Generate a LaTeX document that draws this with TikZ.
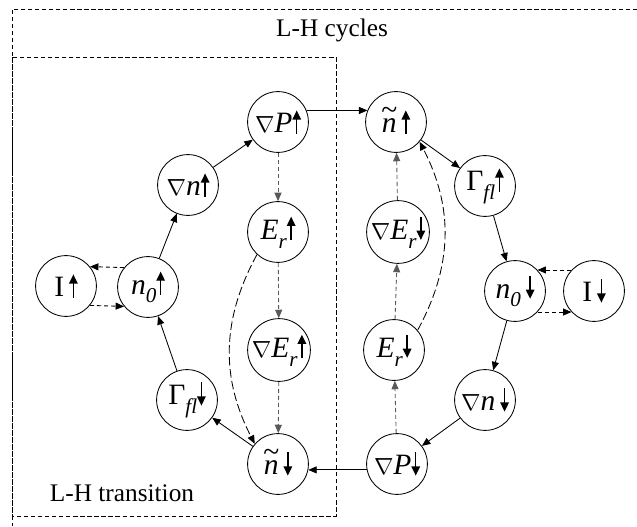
\documentclass[tikz,border=0pt]{standalone}
\usepackage{fontspec}
\usepackage{graphicx}
\setmainfont{Liberation Serif}
\usetikzlibrary{arrows.meta}

% small up / down arrows used inside the circles
\newcommand{\upar}{\tikz[baseline=0pt]\draw[line width=1pt,-{Triangle[length=6.5pt,width=6pt]}] (0pt,-0.5pt) -- (0pt,16pt);}
\newcommand{\dnar}{\tikz[baseline=0pt]\draw[line width=1pt,-{Triangle[length=6.5pt,width=6pt]}] (0pt,16pt) -- (0pt,-0.5pt);}
% gradient sign, lowered index and n with a wide tilde
\newcommand{\grad}{\scalebox{0.8}{$\nabla$}}
\newcommand{\low}[1]{\raisebox{-0.3em}{\fontsize{15}{15}\selectfont\textit{#1}}}
\newcommand{\ntil}{\ooalign{\textit{n}\cr\hidewidth\raisebox{0.45em}{\textasciitilde}\hidewidth\cr}}

\begin{document}
\begin{tikzpicture}[x=0.025cm, y=-0.025cm, font=\fontsize{18}{22}\selectfont,
    var/.style={circle, draw, line width=0.6pt, minimum size=1.52cm, inner sep=0pt, font=\fontsize{21}{25}\selectfont},
    flow/.style={line width=0.6pt, -{Triangle[length=6pt,width=5pt]}},
    cross/.style={flow, dash pattern=on 3pt off 2pt},
    field/.style={flow, gray!70!black, dash pattern=on 3pt off 2pt},
    loop/.style={flow, dash pattern=on 6pt off 2.5pt},
    frame/.style={line width=0.5pt, dash pattern=on 3pt off 2pt}]
    \useasboundingbox (0,0) rectangle (637,526);

    % Frames
    \draw[frame] (637,9) -- (12,9) -- (12,526);
    \draw[frame] (12,57) rectangle (336,516);
    \node (cycles) at (332,30) {L-H cycles};
    \node (trans) at (122,493) {L-H transition};

    % L-H transition side
    \node [var] (iup) at (66,286) {I\,\upar};
    \node [var] (n0up) at (148,287) {\textit{n}\low{0}\upar};
    \node [var] (dnup) at (188,185) {\grad\textit{n}\upar};
    \node [var] (dpup) at (278,122) {\grad\textit{P}\upar};
    \node [var] (erup) at (278,232) {\textit{E}\low{r}\upar};
    \node [var] (derup) at (279,350) {\grad\textit{E}\low{r}\upar};
    \node [var] (tndown) at (278,464) {\ntil\,\dnar};
    \node [var] (gfldown) at (187,400) {Γ\low{fl}\dnar};

    % H-L side
    \node [var] (tnup) at (396,122) {\ntil\,\upar};
    \node [var] (gflup) at (485,186) {Γ\low{fl}\upar};
    \node [var] (n0down) at (515,291) {\textit{n}\low{0}\,\dnar};
    \node [var] (idown) at (594,291) {I\,\dnar};
    \node [var] (dndown) at (485,400) {\grad\textit{n}\,\dnar};
    \node [var] (dpdown) at (397,464) {\grad\textit{P}\dnar};
    \node [var] (erdown) at (394,350) {\textit{E}\low{r}\dnar};
    \node [var] (derdown) at (398,232) {\grad\textit{E}\low{r}\dnar};

    % Main cycle
    \draw[flow] (n0up) -- (dnup);
    \draw[flow] (dnup) -- (dpup);
    \draw[flow] (dpup.22) -- (tnup.158);
    \draw[flow] (tnup) -- (gflup);
    \draw[flow] (gflup) -- (n0down);
    \draw[flow] (n0down) -- (dndown);
    \draw[flow] (dndown) -- (dpdown);
    \draw[flow] (dpdown.191) -- (tndown.349);
    \draw[flow] (tndown) -- (gfldown);
    \draw[flow] (gfldown) -- (n0up);

    % Current exchange
    \draw[cross] (n0up.141) -- (iup.39);
    \draw[cross] (iup.-39) -- (n0up.-141);
    \draw[cross] (idown.137) -- (n0down.43);
    \draw[cross] (n0down.-43) -- (idown.-137);

    % Radial field chain
    \draw[field] (dpup) -- (erup);
    \draw[field] (erup) -- (derup);
    \draw[field] (derup) -- (tndown);
    \draw[field] (dpdown) -- (erdown);
    \draw[field] (erdown) -- (derdown);
    \draw[field] (derdown) -- (tnup);
    \draw[loop] (erup.227) to[bend right=28] (tndown.139);
    \draw[loop] (erdown.40) to[bend right=28] (tnup.-40);
\end{tikzpicture}
\end{document}
